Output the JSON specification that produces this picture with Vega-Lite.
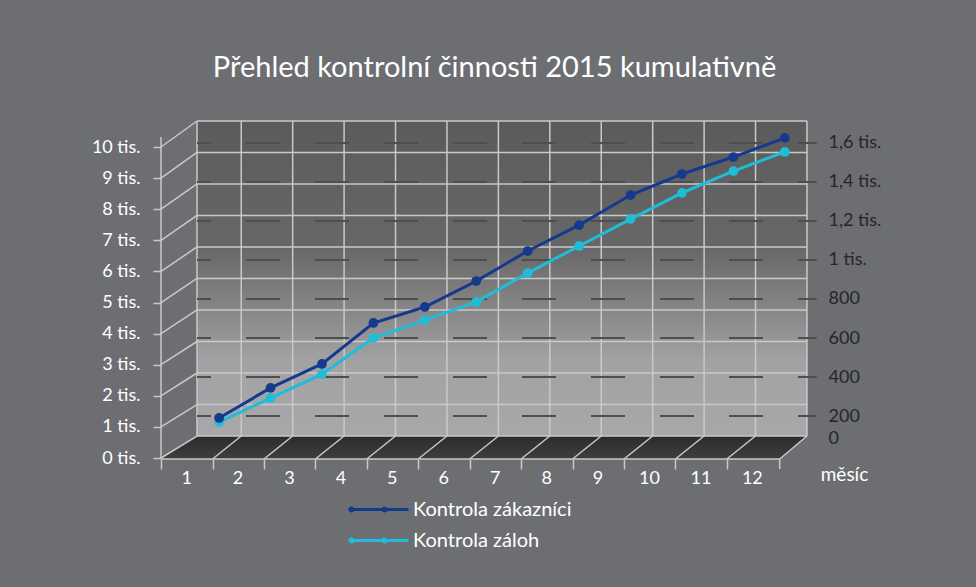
{
  "$schema": "https://vega.github.io/schema/vega-lite/v6.json",
  "autosize": {"type": "none"},
  "width": 647,
  "height": 338,
  "padding": {"left": 161, "top": 121, "right": 168, "bottom": 128},
  "background": "#6d6e72",
  "title": {"text": "Přehled kontrolní činnosti 2015 kumulativně", "font": "Lato", "fontSize": 29, "fontWeight": "normal", "color": "#ffffff", "anchor": "middle", "offset": 37, "dx": 10},
  "config": {
    "view": {"stroke": null},
    "font": "Lato",
    "legend": {"orient": "none", "legendX": 186, "legendY": 377, "title": null, "padding": 0,
      "symbolType": "M-1,0H5M-0.85,0a0.15,0.15 0 1,0 0.3,0a0.15,0.15 0 1,0 -0.3,0M2.45,0a0.15,0.15 0 1,0 0.3,0a0.15,0.15 0 1,0 -0.3,0",
      "symbolSize": 400, "symbolStrokeWidth": 3, "rowPadding": 9, "labelOffset": 43,
      "labelFontSize": 20, "labelColor": "#ffffff", "labelFont": "Lato", "labelLimit": 300}
  },
  "datasets": {
    "wall": [{"x0": 0.57, "x1": 12.43, "v0": 707, "v1": 10836}],
    "floor": [
      {"x": -0.13, "a": -32, "b": -32},
      {"x": 0.57, "a": 707, "b": -32},
      {"x": 11.9, "a": 707, "b": -32},
      {"x": 12.43, "a": 707, "b": 707}
    ],
    "grid": [
      {"x": 0.57, "x2": 12.43, "v": 707, "v2": 707},
      {"x": 0.57, "x2": 12.43, "v": 1720, "v2": 1720},
      {"x": 0.57, "x2": 12.43, "v": 2733, "v2": 2733},
      {"x": 0.57, "x2": 12.43, "v": 3746, "v2": 3746},
      {"x": 0.57, "x2": 12.43, "v": 4759, "v2": 4759},
      {"x": 0.57, "x2": 12.43, "v": 5772, "v2": 5772},
      {"x": 0.57, "x2": 12.43, "v": 6785, "v2": 6785},
      {"x": 0.57, "x2": 12.43, "v": 7798, "v2": 7798},
      {"x": 0.57, "x2": 12.43, "v": 8811, "v2": 8811},
      {"x": 0.57, "x2": 12.43, "v": 9824, "v2": 9824},
      {"x": 0.57, "x2": 12.43, "v": 10836, "v2": 10836},
      {"x": 0.57, "x2": 0.57, "v": 707, "v2": 10836},
      {"x": 1.43, "x2": 1.43, "v": 707, "v2": 10836},
      {"x": 2.43, "x2": 2.43, "v": 707, "v2": 10836},
      {"x": 3.43, "x2": 3.43, "v": 707, "v2": 10836},
      {"x": 4.43, "x2": 4.43, "v": 707, "v2": 10836},
      {"x": 5.43, "x2": 5.43, "v": 707, "v2": 10836},
      {"x": 6.43, "x2": 6.43, "v": 707, "v2": 10836},
      {"x": 7.43, "x2": 7.43, "v": 707, "v2": 10836},
      {"x": 8.43, "x2": 8.43, "v": 707, "v2": 10836},
      {"x": 9.43, "x2": 9.43, "v": 707, "v2": 10836},
      {"x": 10.43, "x2": 10.43, "v": 707, "v2": 10836},
      {"x": 11.43, "x2": 11.43, "v": 707, "v2": 10836},
      {"x": 12.43, "x2": 12.43, "v": 707, "v2": 10836},
      {"x": -0.13, "x2": 0.57, "v": 0, "v2": 707},
      {"x": -0.13, "x2": 0.57, "v": 1000, "v2": 1720},
      {"x": -0.13, "x2": 0.57, "v": 2000, "v2": 2733},
      {"x": -0.13, "x2": 0.57, "v": 3000, "v2": 3746},
      {"x": -0.13, "x2": 0.57, "v": 4000, "v2": 4759},
      {"x": -0.13, "x2": 0.57, "v": 5000, "v2": 5772},
      {"x": -0.13, "x2": 0.57, "v": 6000, "v2": 6785},
      {"x": -0.13, "x2": 0.57, "v": 7000, "v2": 7798},
      {"x": -0.13, "x2": 0.57, "v": 8000, "v2": 8811},
      {"x": -0.13, "x2": 0.57, "v": 9000, "v2": 9824},
      {"x": -0.13, "x2": 0.57, "v": 10000, "v2": 10836},
      {"x": 1.43, "x2": 0.872, "v": 707, "v2": -32},
      {"x": 2.43, "x2": 1.872, "v": 707, "v2": -32},
      {"x": 3.43, "x2": 2.872, "v": 707, "v2": -32},
      {"x": 4.43, "x2": 3.872, "v": 707, "v2": -32},
      {"x": 5.43, "x2": 4.872, "v": 707, "v2": -32},
      {"x": 6.43, "x2": 5.872, "v": 707, "v2": -32},
      {"x": 7.43, "x2": 6.872, "v": 707, "v2": -32},
      {"x": 8.43, "x2": 7.872, "v": 707, "v2": -32},
      {"x": 9.43, "x2": 8.872, "v": 707, "v2": -32},
      {"x": 10.43, "x2": 9.872, "v": 707, "v2": -32},
      {"x": 11.43, "x2": 10.872, "v": 707, "v2": -32},
      {"x": 12.43, "x2": 11.9, "v": 707, "v2": -32},
      {"x": -0.13, "x2": 11.9, "v": -32, "v2": -32},
      {"x": 11.9, "x2": 11.9, "v": -32, "v2": -354},
      {"x": -0.13, "x2": -0.13, "v": -32, "v2": 10322}
    ],
    "dashes": [
      {"x": 0.57, "x2": 12.62, "r": 200},
      {"x": 0.57, "x2": 12.62, "r": 400},
      {"x": 0.57, "x2": 12.62, "r": 600},
      {"x": 0.57, "x2": 12.62, "r": 800},
      {"x": 0.57, "x2": 12.62, "r": 1000},
      {"x": 0.57, "x2": 12.62, "r": 1200},
      {"x": 0.57, "x2": 12.62, "r": 1400},
      {"x": 0.57, "x2": 12.62, "r": 1600}
    ],
    "series": [
      {"month": 1, "series": "Kontrola záloh", "value": 169},
      {"month": 2, "series": "Kontrola záloh", "value": 292},
      {"month": 3, "series": "Kontrola záloh", "value": 415},
      {"month": 4, "series": "Kontrola záloh", "value": 600},
      {"month": 5, "series": "Kontrola záloh", "value": 692},
      {"month": 6, "series": "Kontrola záloh", "value": 785},
      {"month": 7, "series": "Kontrola záloh", "value": 933},
      {"month": 8, "series": "Kontrola záloh", "value": 1072},
      {"month": 9, "series": "Kontrola záloh", "value": 1210},
      {"month": 10, "series": "Kontrola záloh", "value": 1344},
      {"month": 11, "series": "Kontrola záloh", "value": 1456},
      {"month": 12, "series": "Kontrola záloh", "value": 1554},
      {"month": 1, "series": "Kontrola zákazníci", "value": 190},
      {"month": 2, "series": "Kontrola zákazníci", "value": 344},
      {"month": 3, "series": "Kontrola zákazníci", "value": 467},
      {"month": 4, "series": "Kontrola zákazníci", "value": 677},
      {"month": 5, "series": "Kontrola zákazníci", "value": 759},
      {"month": 6, "series": "Kontrola zákazníci", "value": 892},
      {"month": 7, "series": "Kontrola zákazníci", "value": 1046},
      {"month": 8, "series": "Kontrola zákazníci", "value": 1179},
      {"month": 9, "series": "Kontrola zákazníci", "value": 1333},
      {"month": 10, "series": "Kontrola zákazníci", "value": 1441},
      {"month": 11, "series": "Kontrola zákazníci", "value": 1528},
      {"month": 12, "series": "Kontrola zákazníci", "value": 1626}
    ]
  },
  "resolve": {"scale": {"y": "independent"}, "axis": {"y": "independent"}},
  "layer": [
    {
      "layer": [
        {
          "data": {"name": "wall"},
          "mark": {"type": "rect", "color": {"gradient": "linear", "x1": 0, "y1": 0, "x2": 0, "y2": 1, "stops": [
            {"offset": 0, "color": "#5b5b5b"},
            {"offset": 0.4, "color": "#676768"},
            {"offset": 0.62, "color": "#8a8a8b"},
            {"offset": 0.76, "color": "#a2a2a4"},
            {"offset": 1, "color": "#a8a8aa"}]}},
          "encoding": {
            "x": {"field": "x0", "type": "quantitative", "scale": {"domain": [-0.13, 12.45], "nice": false, "zero": false},
              "axis": {"values": [1, 2, 3, 4, 5, 6, 7, 8, 9, 10, 11, 12], "tickCount": 20, "tickOffset": -58, "labelOffset": 25, "domain": false, "grid": false,
                "tickSize": 10, "tickColor": "#c9c9c9", "tickWidth": 1.5, "labelColor": "#ffffff", "labelFontSize": 18, "labelFont": "Lato",
                "labelPadding": 0, "labelOverlap": false, "labelBound": false, "labelFlush": false,
                "labelExpr": "format(datum.value, 'd')",
                "title": "měsíc", "titleColor": "#ffffff", "titleFontSize": 19, "titleFontWeight": "normal", "titleFont": "Lato",
                "titleX": 683, "titleY": 15, "titleAlign": "center", "titleBaseline": "middle"}},
            "x2": {"field": "x1"},
            "y": {"field": "v0", "type": "quantitative", "scale": {"domain": [-32, 10836], "nice": false, "zero": false},
              "axis": {"values": [0, 1000, 2000, 3000, 4000, 5000, 6000, 7000, 8000, 9000, 10000], "tickCount": 20, "title": null, "domain": false, "grid": false,
                "tickSize": 8, "tickColor": "#c9c9c9", "tickWidth": 1.5, "labelColor": "#ffffff", "labelFontSize": 18, "labelFont": "Lato",
                "labelPadding": 13, "labelOverlap": false, "labelBound": false, "labelFlush": false,
                "labelExpr": "format(datum.value / 1000, 'd') + ' tis.'"}},
            "y2": {"field": "v1"}
          }
        },
        {
          "data": {"name": "floor"},
          "mark": {"type": "area", "color": {"gradient": "linear", "x1": 0, "y1": 0, "x2": 0, "y2": 1, "stops": [
            {"offset": 0, "color": "#2c2c2c"},
            {"offset": 1, "color": "#3e3e3e"}]}},
          "encoding": {
            "x": {"field": "x", "type": "quantitative"},
            "y": {"field": "a", "type": "quantitative"},
            "y2": {"field": "b"}
          }
        },
        {
          "data": {"name": "grid"},
          "mark": {"type": "rule", "color": "#c9c9c9", "strokeWidth": 1.5},
          "encoding": {
            "x": {"field": "x", "type": "quantitative"},
            "x2": {"field": "x2"},
            "y": {"field": "v", "type": "quantitative"},
            "y2": {"field": "v2"}
          }
        }
      ]
    },
    {
      "layer": [
        {
          "data": {"name": "dashes"},
          "mark": {"type": "rule", "color": "#4e4e4e", "strokeWidth": 2, "strokeDash": [34, 35], "strokeDashOffset": 20},
          "encoding": {
            "x": {"field": "x", "type": "quantitative"},
            "x2": {"field": "x2"},
            "y": {"field": "r", "type": "quantitative", "scale": {"domain": [-20.5, 1712.8], "nice": false, "zero": false},
              "axis": {"orient": "right", "values": [0, 200, 400, 600, 800, 1000, 1200, 1400, 1600], "tickCount": 20, "title": null, "domain": false, "grid": false,
                "ticks": false, "tickSize": 0, "labelPadding": 20, "labelColor": "#262626", "labelFontSize": 18, "labelFont": "Lato",
                "labelOverlap": false, "labelBound": false, "labelFlush": false,
                "labelOffset": {"condition": {"test": "datum.value === 0", "value": -17}, "value": 0},
                "labelExpr": "datum.value >= 1000 ? replace(format(datum.value / 1000, '.1~f'), '.', ',') + ' tis.' : format(datum.value, 'd')"}}
          }
        },
        {
          "data": {"name": "series"},
          "mark": {"type": "line", "strokeWidth": 3},
          "encoding": {
            "x": {"field": "month", "type": "quantitative"},
            "y": {"field": "value", "type": "quantitative"},
            "color": {"field": "series", "type": "nominal",
              "scale": {"domain": ["Kontrola zákazníci", "Kontrola záloh"], "range": ["#153a8c", "#20bcd8"]}}
          }
        },
        {
          "data": {"name": "series"},
          "mark": {"type": "point", "filled": true, "size": 95, "opacity": 1},
          "encoding": {
            "x": {"field": "month", "type": "quantitative"},
            "y": {"field": "value", "type": "quantitative"},
            "color": {"field": "series", "type": "nominal"}
          }
        }
      ]
    }
  ]
}
